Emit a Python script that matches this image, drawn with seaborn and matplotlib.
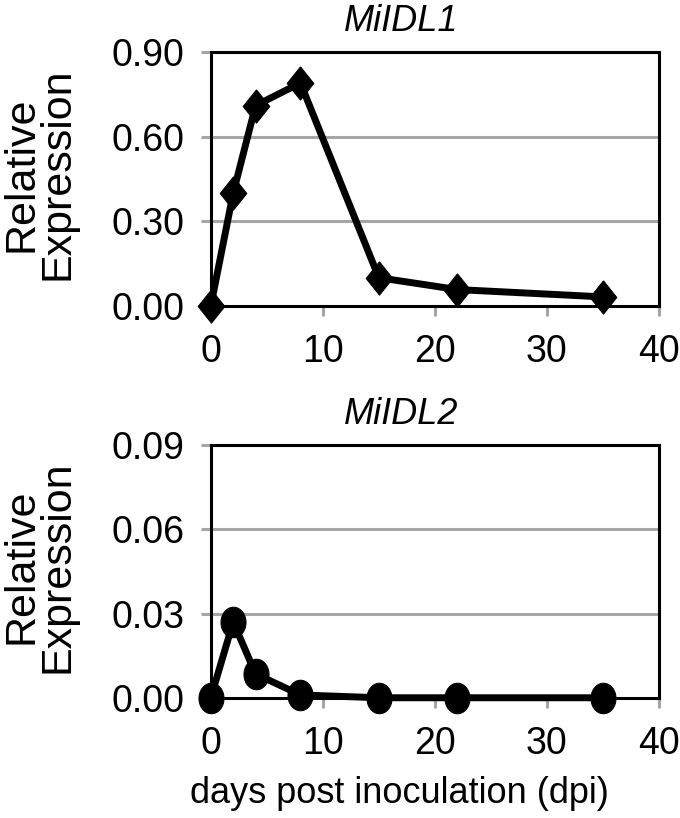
import matplotlib
matplotlib.use("Agg")
import matplotlib.pyplot as plt
import seaborn as sns
import pandas as pd
import numpy as np

# Data
dpi_days = [0, 2, 4, 8, 15, 22, 35]
midl1_expr = [0.00, 0.40, 0.71, 0.79, 0.10, 0.058, 0.032]
midl2_expr = [0.000, 0.027, 0.0085, 0.001, 0.000, 0.000, 0.000]
titles = ["MiIDL1", "MiIDL2"]
y_ticks_1 = [0.00, 0.30, 0.60, 0.90]
y_ticks_2 = [0.00, 0.03, 0.06, 0.09]
x_ticks = [0, 10, 20, 30, 40]

sns.set_theme(style="white")
plt.rcParams['font.family'] = ['Liberation Sans', 'DejaVu Sans']

# marker shapes (slightly taller than wide, as in the reference)
diamond = [(0, 1), (0.8, 0), (0, -1), (-0.8, 0), (0, 1)]
_t = np.linspace(0, 2 * np.pi, 40)
ellipse = list(zip(0.82 * np.cos(_t), np.sin(_t)))

fig = plt.figure(figsize=(6.8, 8.18), dpi=100)
ax1 = fig.add_axes([0.310, 0.626, 0.659, 0.3105])
ax2 = fig.add_axes([0.310, 0.147, 0.659, 0.309])

df1 = pd.DataFrame({"day": dpi_days, "expr": midl1_expr})
df2 = pd.DataFrame({"day": dpi_days, "expr": midl2_expr})

specs = [
    (ax1, df1, diamond, 24, y_ticks_1, 0.90, titles[0]),
    (ax2, df2, ellipse, 22, y_ticks_2, 0.09, titles[1]),
]

for ax, df, mk, ms, yt, ymax, title in specs:
    for y in yt[1:]:
        ax.axhline(y, color="#a6a6a6", lw=2.2, zorder=0)
    sns.lineplot(data=df, x="day", y="expr", ax=ax, color="black", lw=5,
                 marker=mk, markersize=ms, markeredgecolor="black",
                 markerfacecolor="black", clip_on=False, zorder=3)
    ax.set_xlim(0, 40)
    ax.set_ylim(0, ymax)
    ax.set_xticks(x_ticks)
    ax.set_yticks(yt)
    ax.set_yticklabels([f"{v:.2f}" for v in yt])
    for s in ax.spines.values():
        s.set_color("black")
        s.set_linewidth(2.2)
        s.set_visible(True)
    ax.tick_params(axis="both", which="major", direction="out", length=7,
                   width=2.2, color="#a6a6a6", labelsize=27, labelcolor="black",
                   bottom=True, left=True)
    ax.tick_params(axis="x", pad=13)
    ax.tick_params(axis="y", pad=12)
    ax.set_title(title, fontsize=26, style="italic", pad=15, color="black")
    ax.title.set_x(0.424)
    ax.set_ylabel("Relative\nExpression", fontsize=31, linespacing=0.88,
                  color="black")
    ax.yaxis.set_label_coords(-0.297, 0.52)
    ax.set_xlabel("")
    ax.grid(False)

ax2.set_xlabel("days post inoculation (dpi)", fontsize=26, color="black")
ax2.xaxis.set_label_coords(0.42, -0.31)

fig.savefig("out.png", dpi=100)
